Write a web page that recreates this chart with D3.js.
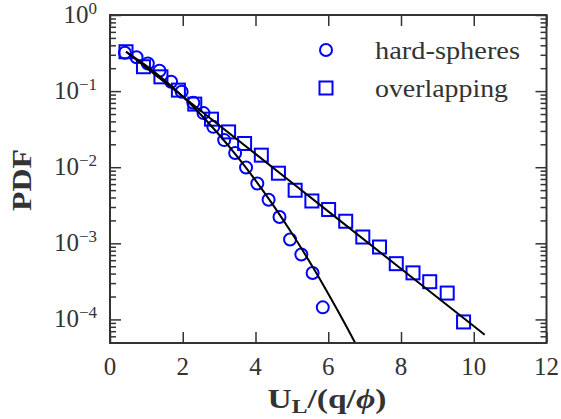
<!DOCTYPE html>
<html>
<head>
<meta charset="utf-8">
<script src="https://cdn.jsdelivr.net/npm/d3@7"></script>
<style>
  body { margin: 0; background: #fff; }
  svg { display: block; }
  .axis path { display: none; }
  .axis line { stroke: #333; stroke-width: 1.5; }
</style>
</head>
<body>
<div id="chart"></div>
<script>
// hard-spheres (circles)
var hsX = [0.41, 0.73, 1.04, 1.36, 1.68, 1.97, 2.29, 2.57, 2.84, 3.14, 3.44, 3.74, 4.05, 4.36, 4.66, 4.95, 5.26, 5.57, 5.85]
var hsY = [0.319, 0.278, 0.231, 0.185, 0.133, 0.098, 0.0702, 0.0514, 0.0339, 0.0227, 0.0154, 0.0099, 0.0061, 0.00374, 0.00222, 0.00112, 0.000712, 0.000407, 0.000144]

// overlapping (squares)
var ovX = [0.44, 0.92, 1.40, 1.88, 2.33, 2.79, 3.26, 3.70, 4.16, 4.63, 5.09, 5.55, 6.01, 6.48, 6.95, 7.41, 7.87, 8.33, 8.79, 9.27, 9.72]
var ovY = [0.329, 0.209, 0.154, 0.103, 0.0675, 0.0428, 0.0291, 0.0205, 0.0144, 0.00834, 0.00498, 0.00360, 0.00278, 0.00195, 0.00121, 0.000894, 0.000540, 0.000409, 0.000313, 0.000222, 0.0000927]

// fitted curves (black lines)
var hsFitX = [0.44, 1, 1.5, 2, 2.5, 3, 3.5, 4, 4.5, 5, 5.5, 6, 6.5, 6.8]
var hsFitY = [0.329, 0.215, 0.1388, 0.0848, 0.0489, 0.0267, 0.01377, 0.00673, 0.00311, 0.001355, 0.000559, 0.000218, 0.0000809, 0.0000434]
var ovFitX = [0.44, 2, 4, 6, 8, 10.3]
var ovFitY = [0.329, 0.0849, 0.01496, 0.00263, 0.000463, 0.000063]

var xTicks = [0, 2, 4, 6, 8, 10, 12]
var yExps = [0, -1, -2, -3, -4]
var legendNames = ['hard-spheres', 'overlapping']

var W = 561, H = 419
var margin = { top: 15, right: 14.5, bottom: 76, left: 110 }
var width = W - margin.left - margin.right
var height = H - margin.top - margin.bottom
var serif = '"Liberation Serif", "Times New Roman", serif'

var svg = d3.select('#chart').append('svg')
  .attr('width', W)
  .attr('height', H)
  .style('font-family', serif)

var g = svg.append('g')
  .attr('transform', 'translate(' + margin.left + ',' + margin.top + ')')

var x = d3.scaleLinear().domain([0, 12]).range([0, width])
var y = d3.scaleLog().domain([4.9e-5, 1]).range([height, 0])

var majors = yExps.map(e => Math.pow(10, e))
var minors = []
for (var e = -5; e < 0; e++) {
  for (var m = 2; m <= 9; m++) {
    var v = m * Math.pow(10, e)
    if (v >= y.domain()[0] && v <= 1) minors.push(v)
  }
}

// ticks, all pointing inward
g.append('g').attr('class', 'axis')
  .call(d3.axisLeft(y).tickValues(majors).tickSize(-11).tickFormat(''))
g.append('g').attr('class', 'axis')
  .call(d3.axisLeft(y).tickValues(minors).tickSize(-6).tickFormat(''))
g.append('g').attr('class', 'axis')
  .attr('transform', 'translate(' + width + ',0)')
  .call(d3.axisRight(y).tickValues(majors).tickSize(-11).tickFormat(''))
g.append('g').attr('class', 'axis')
  .attr('transform', 'translate(' + width + ',0)')
  .call(d3.axisRight(y).tickValues(minors).tickSize(-6).tickFormat(''))
g.append('g').attr('class', 'axis')
  .attr('transform', 'translate(0,' + height + ')')
  .call(d3.axisBottom(x).tickValues(xTicks).tickSize(-11).tickFormat(''))
g.append('g').attr('class', 'axis')
  .call(d3.axisTop(x).tickValues(xTicks).tickSize(-11).tickFormat(''))

// tick labels
g.selectAll('.xlab')
  .data(xTicks)
  .enter()
  .append('text')
  .style('font-family', serif)
  .attr('x', d => x(d))
  .attr('y', height + 32)
  .attr('text-anchor', 'middle')
  .attr('font-size', 25)
  .attr('fill', '#333')
  .text(d => d)

var ylab = g.selectAll('.ylab')
  .data(yExps)
  .enter()
  .append('text')
  .style('font-family', serif)
  .attr('x', -13)
  .attr('y', d => y(Math.pow(10, d)) + 8)
  .attr('text-anchor', 'end')
  .attr('font-size', 25)
  .attr('fill', '#333')
ylab.append('tspan').text('10')
ylab.append('tspan')
  .attr('dy', -9)
  .attr('font-size', 17)
  .text(d => d === 0 ? '0' : '\u2212' + Math.abs(d))

// data
svg.append('clipPath').attr('id', 'clip')
  .append('rect').attr('width', width).attr('height', height)

var plot = g.append('g').attr('clip-path', 'url(#clip)')

plot.selectAll('.hs')
  .data(hsX)
  .enter()
  .append('circle')
  .attr('cx', d => x(d))
  .attr('cy', (d, i) => y(hsY[i]))
  .attr('r', 6)
  .attr('fill', 'none')
  .attr('stroke', '#0000ff')
  .attr('stroke-width', 2)

plot.selectAll('.ov')
  .data(ovX)
  .enter()
  .append('rect')
  .attr('x', d => x(d) - 6.5)
  .attr('y', (d, i) => y(ovY[i]) - 6.5)
  .attr('width', 13)
  .attr('height', 13)
  .attr('fill', 'none')
  .attr('stroke', '#0000ff')
  .attr('stroke-width', 2)

var line = d3.line()
  .x(d => x(d[0]))
  .y(d => y(d[1]))
  .curve(d3.curveMonotoneX)

plot.append('path')
  .datum(hsFitX.map((d, i) => [d, hsFitY[i]]))
  .attr('d', line)
  .attr('fill', 'none')
  .attr('stroke', '#000')
  .attr('stroke-width', 2)

plot.append('path')
  .datum(ovFitX.map((d, i) => [d, ovFitY[i]]))
  .attr('d', line)
  .attr('fill', 'none')
  .attr('stroke', '#000')
  .attr('stroke-width', 2)

// frame
g.append('rect')
  .attr('width', width)
  .attr('height', height)
  .attr('fill', 'none')
  .attr('stroke', '#333')
  .attr('stroke-width', 2)

// legend
var lg = g.append('g').attr('transform', 'translate(216,35)')
lg.append('circle')
  .attr('cx', 0).attr('cy', 0).attr('r', 6)
  .attr('fill', 'none').attr('stroke', '#0000ff').attr('stroke-width', 2)
lg.append('rect')
  .attr('x', -6.5).attr('y', 38 - 6.5).attr('width', 13).attr('height', 13)
  .attr('fill', 'none').attr('stroke', '#0000ff').attr('stroke-width', 2)
lg.selectAll('.lt')
  .data(legendNames)
  .enter()
  .append('text')
  .style('font-family', serif)
  .attr('x', 49)
  .attr('y', (d, i) => 9 + i * 38)
  .attr('font-size', 25)
  .attr('fill', '#333')
  .attr('textLength', (d, i) => i === 0 ? 145 : 133)
  .attr('lengthAdjust', 'spacingAndGlyphs')
  .text(d => d)

// axis titles
var xt = svg.append('text')
  .style('font-family', serif)
  .attr('x', 327)
  .attr('y', 408)
  .attr('text-anchor', 'middle')
  .attr('font-size', 27)
  .attr('font-weight', 'bold')
  .attr('fill', '#333')
  .attr('textLength', 119)
  .attr('lengthAdjust', 'spacingAndGlyphs')
xt.append('tspan').text('U')
xt.append('tspan').attr('font-size', 19).attr('dy', 5).text('L')
xt.append('tspan').attr('dy', -5).text('/(q/')
xt.append('tspan').attr('font-style', 'italic').text('\u03d5')
xt.append('tspan').text(')')

svg.append('text')
  .style('font-family', serif)
  .attr('transform', 'translate(31,180) rotate(-90)')
  .attr('text-anchor', 'middle')
  .attr('font-size', 28)
  .attr('font-weight', 'bold')
  .attr('fill', '#333')
  .attr('textLength', 62)
  .attr('lengthAdjust', 'spacingAndGlyphs')
  .text('PDF')
</script>
</body>
</html>
